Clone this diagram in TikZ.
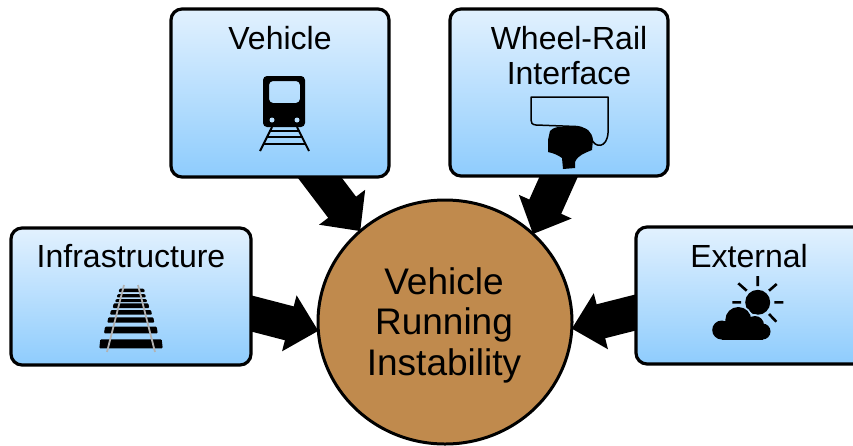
\documentclass[tikz,border=0pt]{standalone}
\usepackage{fontspec}
\setmainfont{Liberation Sans}
\usetikzlibrary{shapes.geometric,arrows.meta}
\definecolor{boxtop}{HTML}{E2F1FE}
\definecolor{boxbot}{HTML}{8ECCFD}
\definecolor{corefill}{HTML}{C08A4D}
\definecolor{halo}{HTML}{B4DCFD}
\pgfdeclarelayer{flowlayer}
\pgfsetlayers{flowlayer,main}
\tikzset{
  box/.style={draw=black,line width=3.2pt,rounded corners=11pt,top color=boxtop,bottom color=boxbot,inner sep=0pt,outer sep=0pt},
  lab/.style={font=\fontsize{32}{35}\selectfont,align=center,text=black,inner sep=0pt},
  core/.style={ellipse,draw=black,line width=3pt,fill=corefill,inner sep=0pt,outer sep=0pt,minimum width=254pt,minimum height=244pt},
  corelab/.style={font=\fontsize{37}{40.5}\selectfont,align=center,text=black,inner sep=0pt},
  flow/.style={draw=black,line width=35pt,shorten <=-25pt,-{Triangle[length=30pt,width=56pt]}},
  iconline/.style={draw=black,line width=2pt},
  ray/.style={draw=black,line width=2.6pt}
}
\begin{document}
\begin{tikzpicture}[x=1pt,y=-1pt]
\useasboundingbox (0,0) rectangle (853,445);

% boxes
\node[box,minimum width=218pt,minimum height=168pt] (veh) at (280,93) {};
\node[box,minimum width=218pt,minimum height=167pt] (wri) at (559,92.5) {};
\node[box,minimum width=240pt,minimum height=137pt] (inf) at (131,296.5) {};
\begin{scope}
\clip (0,0) rectangle (853,445);
\node[box,minimum width=240pt,minimum height=137pt] (ext) at (756,295.5) {};
\end{scope}
\node[core] (cor) at (445,322) {};
\node[corelab] (tcor) at (444,325) {Vehicle\\Running\\Instability};

% labels
\node[lab] (tveh) at (280,38) {Vehicle};
\node[lab] (twri) at (569,55.5) {Wheel-Rail\\Interface};
\node[lab] (tinf) at (131,256) {Infrastructure};
\node[lab] (text) at (749,256) {External};

% connectors
\begin{pgfonlayer}{flowlayer}
\draw[flow] (veh.-65) -- (cor.133);
\draw[flow] (wri.south) -- (cor.45);
\draw[flow] (inf.-8) -- (cor.184);
\draw[flow] (ext.188) -- (cor.-3);
\end{pgfonlayer}

% train icon
\fill[black,even odd rule,rounded corners=4pt] (263,76) rectangle (305,127) (269,81) -- (269,103) -- (300,103) -- (300,81) -- cycle;
\fill[boxbot!60!white] (272,120) circle (2.5pt) (297,120) circle (2.5pt);
\draw[iconline] (272,127) -- (260,151) (297,127) -- (309,151);
\draw[iconline] (269,130.5) -- (300,130.5) (266.5,137) -- (302.5,137) (263.5,143.5) -- (305.5,143.5);

% wheel-rail icon
\draw[draw=black,line width=1.5pt,line join=round] (531,97) -- (608,97) -- (608,133)
  .. controls (607,148) and (595,149) .. (591,138)
  .. controls (588,131) and (584,127) .. (576,126.5) -- (536,125) .. controls (532,124.5) and (531,123) .. (531,120) -- cycle;
\fill[black] (550,131) .. controls (553,128) and (556,127) .. (560,127) -- (578,127)
  .. controls (587,127) and (592,132) .. (593,140) -- (592,150)
  .. controls (585,153) and (578,155) .. (575,162) -- (575,168) -- (563,169) -- (562,158)
  .. controls (558,155) and (553,153) .. (548,152) -- (548,140) -- cycle;

% track icon
\foreach \ya/\yb/\xa/\xb in {288.7/292/118.5/145,294/297.3/116.7/146,299/302/115/147.3,303.3/308/112.7/149.3,310/314.7/110/152,317.3/322.7/107.3/154.3,326.7/333.3/104/157.7,339.3/348.3/99.3/162.7}
  \fill[black,rounded corners=1pt] (\xa,\yb) -- (\xa+1,\ya) -- (\xb-1,\ya) -- (\xb,\yb) -- cycle;
\draw[draw=gray!60,line width=1.8pt] (124,285) -- (107,352) (138,285) -- (155,352);

% sun and cloud icon
\fill[black] (757.7,302.3) circle (12.5pt);
\draw[ray] (757.7,276) -- (757.7,286) (738.3,283.3) -- (746.7,290.7) (776.7,284) -- (769,290.7)
  (732.3,302.3) -- (741,302.3) (774.3,302.3) -- (783.3,302.3) (769,314) -- (776.3,321.7);
\draw[draw=halo,line width=3.5pt] (738.3,320) circle (13pt) (755,325) circle (9pt);
\fill[black] (721.7,330) circle (9.5pt) (738.3,320) circle (13pt) (755,325) circle (9pt) (762.5,331.5) circle (8pt);
\fill[black] (721.7,325) rectangle (762.5,339.5);
\end{tikzpicture}
\end{document}
